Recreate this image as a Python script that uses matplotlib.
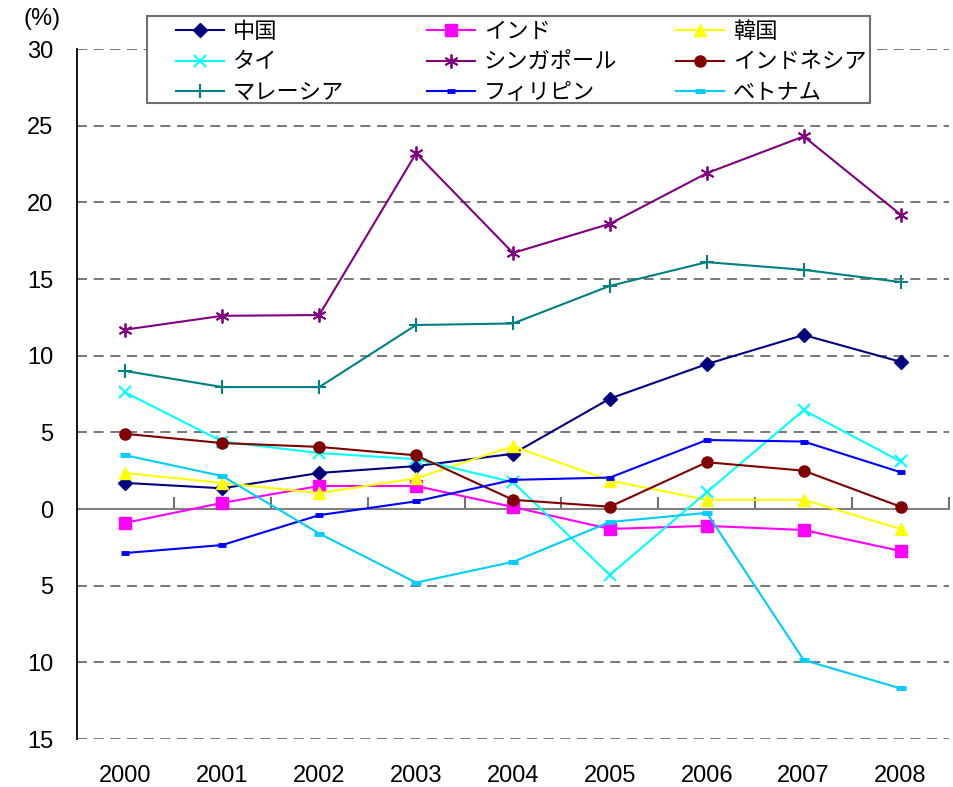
import matplotlib
matplotlib.use("Agg")
import matplotlib.pyplot as plt
from matplotlib.patches import Rectangle
from matplotlib.ticker import FuncFormatter, MultipleLocator, FixedLocator
import numpy as np

plt.rcParams['font.family'] = ['Liberation Sans', 'Noto Sans CJK JP', 'DejaVu Sans']

years = ['2000', '2001', '2002', '2003', '2004', '2005', '2006', '2007', '2008']

china       = [1.7, 1.35, 2.35, 2.8, 3.6, 7.2, 9.45, 11.35, 9.6]
india       = [-0.9, 0.4, 1.5, 1.5, 0.13, -1.3, -1.1, -1.37, -2.74]
korea       = [2.35, 1.7, 1.04, 2.0, 4.1, 1.85, 0.6, 0.6, -1.3]
thailand    = [7.6, 4.4, 3.65, 3.25, 1.75, -4.3, 1.1, 6.45, 3.1]
singapore   = [11.7, 12.6, 12.65, 23.2, 16.7, 18.6, 21.9, 24.3, 19.2]
indonesia   = [4.9, 4.3, 4.05, 3.5, 0.6, 0.15, 3.05, 2.5, 0.15]
malaysia    = [9.0, 7.95, 7.95, 12.0, 12.1, 14.55, 16.1, 15.6, 14.8]
philippines = [-2.87, -2.35, -0.4, 0.5, 1.9, 2.05, 4.5, 4.4, 2.4]
vietnam     = [3.5, 2.15, -1.6, -4.8, -3.45, -0.85, -0.25, -9.85, -11.7]

labels = ['中国', 'インド', '韓国', 'タイ', 'シンガポール', 'インドネシア',
          'マレーシア', 'フィリピン', 'ベトナム']
series = [china, india, korea, thailand, singapore, indonesia,
          malaysia, philippines, vietnam]
colors = ['#000080', '#FF00FF', '#FFFF00', '#00FFFF', '#800080', '#800000',
          '#008080', '#0000FF', '#00CCFF']
markers = ['D', 's', '^', 'x', (6, 2, 0), 'o', '+', '_', '_']
msizes = [7.5, 8, 9, 9, 10, 8, 10, 6, 7]
mews = [1, 1, 1, 1.5, 1.3, 1, 1.5, 3.5, 3.5]

W, H = 954, 787
fig = plt.figure(figsize=(W / 100, H / 100), dpi=100)
ax = fig.add_axes([77 / W, 1 - 739 / H, 872 / W, 690 / H])

x = np.arange(len(years))
handles = []
for vals, lab, c, m, ms, mw in zip(series, labels, colors, markers, msizes, mews):
    ln, = ax.plot(x, vals, color=c, lw=1.5, marker=m, markersize=ms,
                  markeredgewidth=mw, markerfacecolor=c, markeredgecolor=c,
                  label=lab, zorder=3, clip_on=False)
    handles.append(ln)

ax.set_xlim(-0.5, len(years) - 0.5)
ax.set_ylim(-15, 30)
ax.yaxis.set_major_locator(MultipleLocator(5))
ax.yaxis.set_major_formatter(FuncFormatter(lambda v, p: f"{abs(v):.0f}"))
for v in ax.get_yticks():
    if -15 <= v <= 30 and v != 0:
        ax.axhline(v, color='#606060', lw=1.2, ls=(0, (6, 4)), zorder=1)

for s in ['top', 'right']:
    ax.spines[s].set_visible(False)
ax.spines['left'].set_color('black')
ax.spines['left'].set_linewidth(1.3)
ax.spines['bottom'].set_position(('data', 0))
ax.spines['bottom'].set_color('#808080')
ax.spines['bottom'].set_linewidth(1.5)
ax.spines['bottom'].set_zorder(2)

ax.xaxis.set_major_locator(FixedLocator(list(np.arange(0.5, len(years), 1.0))))
ax.tick_params(axis='x', direction='in', length=9, width=1.3, color='#606060',
               labelbottom=False)
ax.tick_params(axis='y', length=0, pad=17, labelsize=17)

sec = ax.secondary_xaxis('bottom')
sec.set_xticks(x)
sec.set_xticklabels(years)
sec.tick_params(length=0, pad=19, labelsize=17)
sec.spines['bottom'].set_visible(False)

fig.text(42 / W, 1 - 19 / H, '(%)', ha='center', va='center', fontsize=17)

# legend frame
fig.add_artist(Rectangle((147 / W, 1 - 102.7 / H), 723 / W, 87 / H,
                         transform=fig.transFigure, facecolor='white',
                         edgecolor='#707070', lw=1.5, zorder=4))
col_x = [176, 427, 676]
for ci in range(3):
    hs = handles[ci::3]
    lg = fig.legend(hs, [h.get_label() for h in hs], loc='upper left',
                    bbox_to_anchor=(col_x[ci] / W, 1 - 20 / H),
                    frameon=False, borderpad=0, borderaxespad=0,
                    handlelength=2.15, handletextpad=0.4, labelspacing=0.33,
                    prop={'family': ['Noto Sans CJK JP', 'DejaVu Sans'], 'size': 16})
    lg.set_zorder(5)

fig.savefig('out.png', dpi=100)
